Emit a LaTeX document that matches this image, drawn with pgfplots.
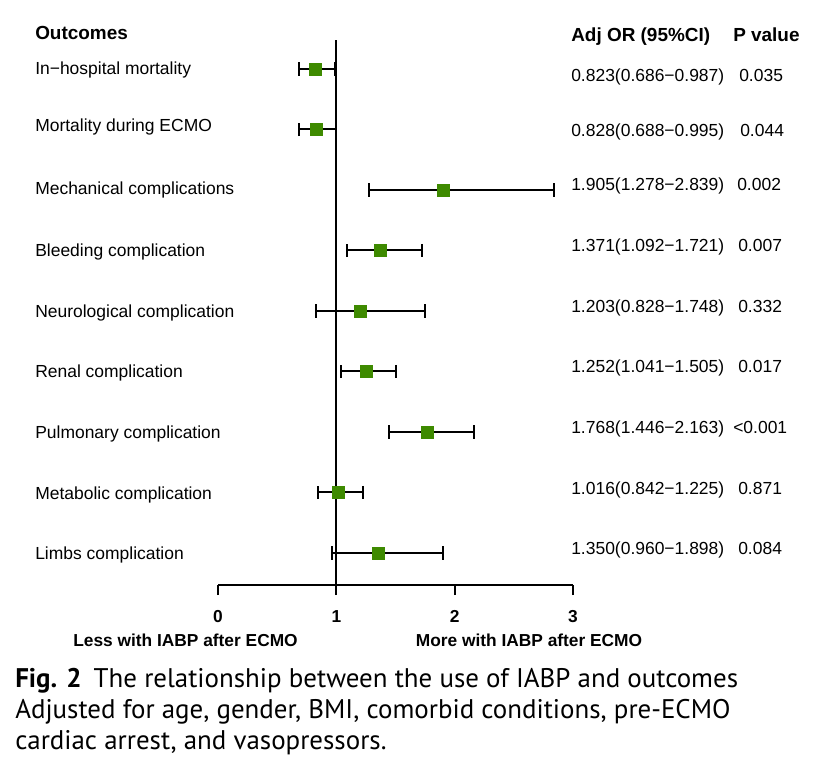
\documentclass[border=0pt]{standalone}
\usepackage{fontspec}
\setmainfont{Liberation Sans}
\newfontfamily\capfont{PT Sans}
\usepackage{pgfplots}
\usepackage{pgfplotstable}
\pgfplotsset{compat=1.18}
\definecolor{orgreen}{RGB}{62,138,0}

% y = 10 - row number (row 1 at the top)
\pgfplotstableread{
y   or     lo     hi
9   0.823  0.686  0.987
8   0.828  0.688  0.995
7   1.905  1.278  2.839
6   1.371  1.092  1.721
5   1.203  0.828  1.748
4   1.252  1.041  1.505
3   1.768  1.446  2.163
2   1.016  0.842  1.225
1   1.350  0.960  1.898
}\ordata

\newcommand{\rowfont}{\fontsize{13.1}{15}\selectfont}
\newcommand{\headfont}{\fontsize{14.2}{16}\selectfont\bfseries}

\begin{document}
\begin{tikzpicture}
\begin{axis}[
  at={(163.5pt,-438.75pt)}, anchor=south west,
  scale only axis, width=266.25pt, height=408.75pt,
  xmin=0, xmax=3, ymin=0.471, ymax=9.479,
  axis x line=bottom, axis y line=none,
  x axis line style={-, line width=1.5pt, black},
  xtick={0,1,2,3}, xticklabels={0,1,2,3},
  tick align=outside, major tick length=7.5pt,
  every tick/.style={black, line width=1.5pt},
  xticklabel style={font=\fontsize{13}{15}\selectfont\bfseries, inner sep=0pt, anchor=north, yshift=-11.5pt},
  clip=false,
]
\addplot[black, line width=1.5pt] coordinates {(1,0.471) (1,9.479)};
\addplot[only marks, mark=square*, mark size=4.5pt,
  mark options={fill=orgreen, draw=orgreen, line width=0.2pt},
  error bars/.cd, x dir=both, x explicit,
  error bar style={black, line width=1.5pt},
  error mark options={rotate=90, black, line width=1.5pt, mark size=5pt}]
  table[x=or, y=y,
        x error plus expr=\thisrow{hi}-\thisrow{or},
        x error minus expr=\thisrow{or}-\thisrow{lo}] {\ordata};
\end{axis}

\begin{scope}[x=0.75pt, y=-0.75pt]
\path (0,0) rectangle (820,784);
\node[anchor=base west, inner sep=0, font=\headfont] at (35,40) {Outcomes};
\node[anchor=base west, inner sep=0, font=\headfont] at (571,42) {Adj OR (95\%CI)};
\node[anchor=base west, inner sep=0, font=\headfont] at (733,42) {P value};

\begin{scope}[every node/.style={anchor=base west, inner sep=0, font=\rowfont}]
\node at (35,75)  {In−hospital mortality};
\node at (35,132) {Mortality during ECMO};
\node at (35,195) {Mechanical complications};
\node at (35,256) {Bleeding complication};
\node at (35,317) {Neurological complication};
\node at (35,377) {Renal complication};
\node at (35,438) {Pulmonary complication};
\node at (35,499) {Metabolic complication};
\node at (35,559) {Limbs complication};

\node at (571,82)  {0.823(0.686−0.987)};
\node at (571,137) {0.828(0.688−0.995)};
\node at (571,191) {1.905(1.278−2.839)};
\node at (571,251) {1.371(1.092−1.721)};
\node at (571,312) {1.203(0.828−1.748)};
\node at (571,372) {1.252(1.041−1.505)};
\node at (571,433) {1.768(1.446−2.163)};
\node at (571,494) {1.016(0.842−1.225)};
\node at (571,554) {1.350(0.960−1.898)};

\node at (739,82)  {0.035};
\node at (740,137) {0.044};
\node at (737,191) {0.002};
\node at (738,251) {0.007};
\node at (738,312) {0.332};
\node at (738,372) {0.017};
\node at (733,433) {<0.001};
\node at (738,494) {0.871};
\node at (738,554) {0.084};
\end{scope}

\node[anchor=base, inner sep=0, font=\fontsize{13}{15}\selectfont\bfseries] at (185.5,646) {Less with IABP after ECMO};
\node[anchor=base, inner sep=0, font=\fontsize{13}{15}\selectfont\bfseries] at (529,646) {More with IABP after ECMO};

\begin{scope}[every node/.style={anchor=base west, inner sep=0, font=\capfont\fontsize{20.2}{24}\selectfont}]
\node at (15,687) {\textbf{Fig. 2}\hspace{0.45em}The relationship between the use of IABP and outcomes};
\node at (15,718) {Adjusted for age, gender, BMI, comorbid conditions, pre-ECMO};
\node at (15,749) {cardiac arrest, and vasopressors.};
\end{scope}
\end{scope}
\end{tikzpicture}
\end{document}
